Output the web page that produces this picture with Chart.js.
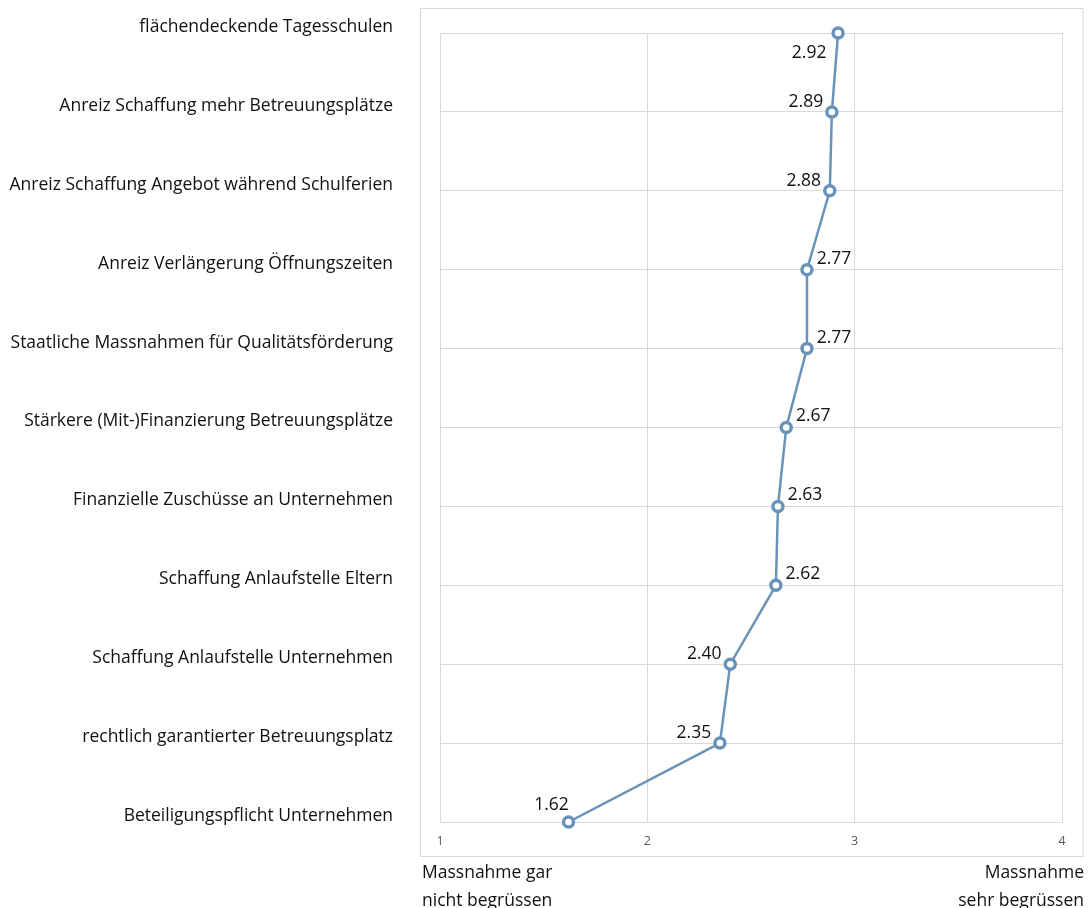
<!DOCTYPE html>
<html>
<head>
<meta charset="utf-8">
<script src="https://cdn.jsdelivr.net/npm/chart.js@4"></script>
<style>
  html, body { margin: 0; padding: 0; background: #fff; }
  #wrap { width: 1091px; height: 908px; }
</style>
</head>
<body>
<div id="wrap"><canvas id="myChart"></canvas></div>
<script>
// 데이터 (위에서 아래 순서)
const massnahmen = [
  "flächendeckende Tagesschulen",
  "Anreiz Schaffung mehr Betreuungsplätze",
  "Anreiz Schaffung Angebot während Schulferien",
  "Anreiz Verlängerung Öffnungszeiten",
  "Staatliche Massnahmen für Qualitätsförderung",
  "Stärkere (Mit-)Finanzierung Betreuungsplätze",
  "Finanzielle Zuschüsse an Unternehmen",
  "Schaffung Anlaufstelle Eltern",
  "Schaffung Anlaufstelle Unternehmen",
  "rechtlich garantierter Betreuungsplatz",
  "Beteiligungspflicht Unternehmen"
];
const mittelwert = [2.92, 2.89, 2.88, 2.77, 2.77, 2.67, 2.63, 2.62, 2.40, 2.35, 1.62];
const xTicks = [1, 2, 3, 4];
const endLabelLeft = ["Massnahme gar", "nicht begrüssen"];
const endLabelRight = ["Massnahme", "sehr begrüssen"];

// 값 라벨 위치 (bl: 왼쪽아래, l: 왼쪽위, r: 오른쪽위, t: 위)
const labelPos = ["bl", "l", "l", "r", "r", "r", "r", "r", "l", "l", "t"];

const blue = "#6a93b9";
const grid = "#d9d9d9";
const font = "'Open Sans', 'Noto Sans', sans-serif";
const textSize = 17.5;

const extras = {
  id: "extras",
  beforeDraw(chart) {
    const c = chart.ctx, a = chart.chartArea;
    c.save();
    c.strokeStyle = grid;
    c.lineWidth = 1;
    c.strokeRect(a.left - 19.5, a.top - 24.5, (a.right + 21) - (a.left - 19.5), (a.bottom + 34.5) - (a.top - 24.5));
    c.restore();
  },
  afterDraw(chart) {
    const c = chart.ctx, a = chart.chartArea;
    const meta = chart.getDatasetMeta(0);
    c.save();
    c.font = textSize + "px " + font;
    c.fillStyle = "#111";
    c.textBaseline = "middle";
    c.textAlign = "center";
    meta.data.forEach(function(pt, i) {
      let txt = mittelwert[i].toFixed(2);
      let p = labelPos[i];
      if (p == "bl") c.fillText(txt, pt.x - 29, pt.y + 20);
      else if (p == "l") c.fillText(txt, pt.x - 26, pt.y - 10);
      else if (p == "r") c.fillText(txt, pt.x + 27, pt.y - 11);
      else c.fillText(txt, pt.x - 17, pt.y - 17);
    });
    // 아래쪽 설명
    c.textAlign = "left";
    c.fillText(endLabelLeft[0], a.left - 18, a.bottom + 51);
    c.fillText(endLabelLeft[1], a.left - 18, a.bottom + 79);
    c.textAlign = "right";
    c.fillText(endLabelRight[0], a.right + 22, a.bottom + 51);
    c.fillText(endLabelRight[1], a.right + 22, a.bottom + 79);
    c.restore();
  }
};

const ctx = document.getElementById("myChart");

new Chart(ctx, {
  type: "line",
  data: {
    labels: massnahmen,
    datasets: [{
      data: mittelwert,
      borderColor: blue,
      borderWidth: 2.5,
      backgroundColor: "#ffffff",
      pointBackgroundColor: "#ffffff",
      pointBorderColor: blue,
      pointBorderWidth: 3.5,
      pointRadius: 5,
      tension: 0
    }]
  },
  options: {
    indexAxis: "y",
    responsive: true,
    maintainAspectRatio: false,
    animation: false,
    layout: { padding: { top: 33, right: 29, bottom: 0, left: 0 } },
    plugins: {
      legend: { display: false },
      tooltip: { enabled: false }
    },
    scales: {
      x: {
        type: "linear",
        min: 1,
        max: 4,
        afterBuildTicks(scale) {
          scale.ticks = xTicks.map(v => ({ value: v }));
        },
        afterFit(scale) { scale.height = 86; },
        grid: { color: grid, drawTicks: false },
        border: { display: false },
        ticks: {
          padding: 12,
          color: "#595959",
          font: { family: font, size: 12.5 }
        }
      },
      y: {
        type: "category",
        offset: false,
        afterFit(scale) {
          scale.width = 440;
          scale.paddingTop = 0;
          scale.paddingBottom = 0;
        },
        grid: { color: grid, drawTicks: false },
        border: { display: false },
        ticks: {
          padding: 47,
          labelOffset: -6,
          color: "#111",
          font: { family: font, size: textSize }
        }
      }
    }
  },
  plugins: [extras]
});
</script>
</body>
</html>
